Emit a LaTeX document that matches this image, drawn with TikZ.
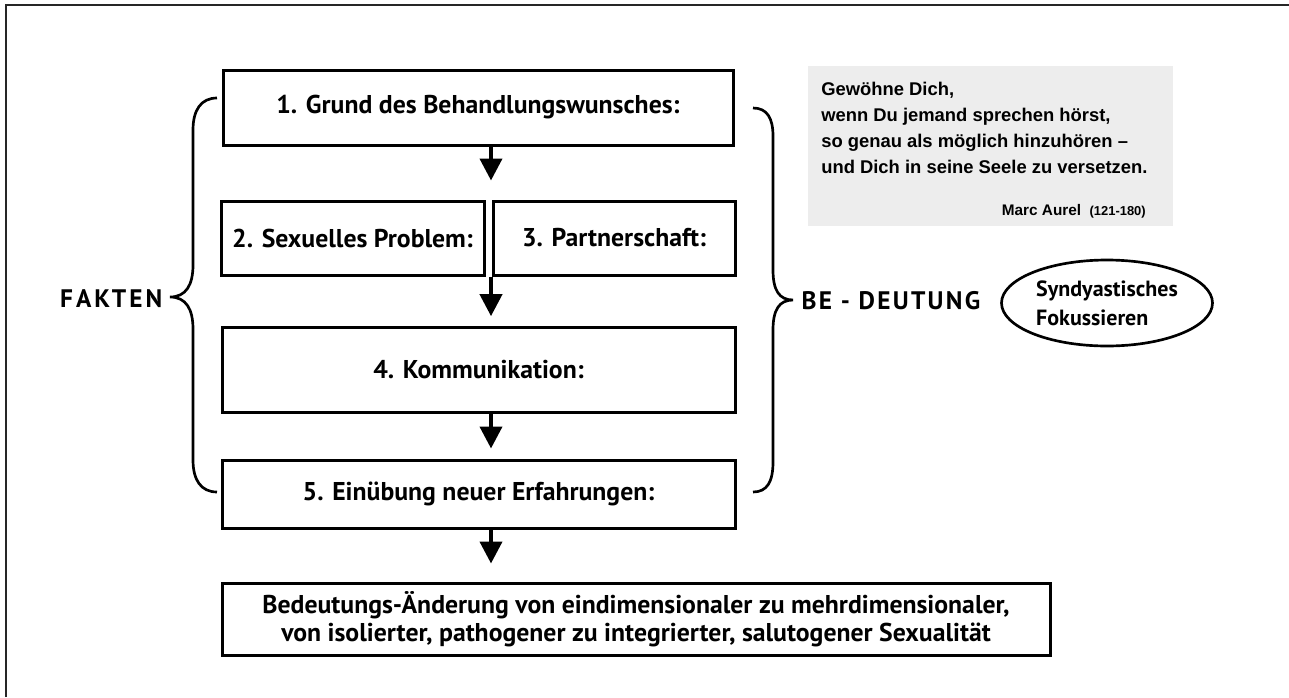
\documentclass[tikz,border=0pt]{standalone}
\usepackage{fontspec}
\setmainfont{PT Sans}
\newfontfamily\arialfont{Liberation Sans}
\usetikzlibrary{arrows.meta,shapes.geometric}
\begin{document}
\begin{tikzpicture}[x=0.75pt,y=-0.75pt,
  box/.style={draw,line width=2.25pt,inner sep=0pt,font=\bfseries\fontsize{19.3}{21}\selectfont,align=center},
  flow/.style={line width=3pt,-{Triangle[width=16.5pt,length=16.5pt]}},
  brace/.style={line width=2pt},
  side/.style={font=\bfseries\fontsize{19}{20}\selectfont\addfontfeature{LetterSpace=#1}},
  quote/.style={font=\arialfont\bfseries\fontsize{13.8}{19.5}\selectfont,inner sep=0pt}]
\useasboundingbox (0,0) rectangle (1289,697);
\draw[line width=1.5pt,black!85] (6,697) -- (6,5) -- (1289,5);
% boxes
\node[box,minimum width=382.5pt,minimum height=56.25pt] (b1) at (478,107.5) {1. Grund des Behandlungswunsches:};
\node[box,minimum width=197.25pt,minimum height=55.5pt] (b2) at (352.5,238) {2. Sexuelles Problem:};
\node[box,minimum width=181.5pt,minimum height=55.5pt] (b3) at (614,238) {3. Partnerschaft:};
\node[box,minimum width=384.75pt,minimum height=63.75pt] (b4) at (478.5,369.5) {4. Kommunikation:};
\node[box,minimum width=384.75pt,minimum height=51pt] (b5) at (478.5,494) {5. Einübung neuer Erfahrungen:};
\node[box,minimum width=621pt,minimum height=54pt] (b6) at (636,619) {Bedeutungs-Änderung von eindimensionaler zu mehrdimensionaler,\\von isolierter, pathogener zu integrierter, salutogener Sexualität};
% arrows
\coordinate (ax) at (491,0);
\draw[flow,shorten >=14.25pt] (b1.south -| ax) -- (b2.north -| ax);
\draw[flow,shorten >=7pt] (b2.south -| ax) -- (b4.north -| ax);
\draw[flow,shorten >=7.5pt] (b4.south -| ax) -- (b5.north -| ax);
\draw[flow,shorten >=13.5pt] (b5.south -| ax) -- (b6.north -| ax);
% braces
\draw[brace] (217,98) .. controls (201,98) and (193,110) .. (193,130) -- (193,265)
  .. controls (193,285) and (186,297) .. (170,297)
  .. controls (186,297) and (193,309) .. (193,329) -- (193,460)
  .. controls (193,480) and (201,492) .. (217,492);
\draw[brace] (753,108) .. controls (767,108) and (773,118) .. (773,136) -- (773,270)
  .. controls (773,290) and (779,300) .. (793,300)
  .. controls (779,300) and (773,310) .. (773,330) -- (773,462)
  .. controls (773,482) and (767,492) .. (753,492);
\node[side=12,anchor=east] (fakten) at (167,299) {FAKTEN};
\node[side=9,anchor=west] (bedeutung) at (797,301) {BE - DEUTUNG};
% ellipse
\node[draw,ellipse,line width=2pt,minimum width=158.25pt,minimum height=64.5pt,inner sep=0pt,align=left,font=\bfseries\fontsize{16.5}{22}\selectfont] (ell) at (1107,303) {Syndyastisches\\Fokussieren};
% quote
\node[fill=black!7,minimum width=273.75pt,minimum height=120pt,inner sep=0pt,anchor=north west] (q) at (808,66) {};
\node[quote,anchor=base west] (q1) at (821,95) {Gewöhne Dich,};
\node[quote,anchor=base west] (q2) at (821,121) {wenn Du jemand sprechen hörst,};
\node[quote,anchor=base west] (q3) at (821,147) {so genau als möglich hinzuhören –};
\node[quote,anchor=base west] (q4) at (821,173) {und Dich in seine Seele zu versetzen.};
\node[inner sep=0pt,anchor=base east,font=\arialfont\bfseries] (q5) at (1146,215) {\fontsize{11.5}{14}\selectfont Marc Aurel\ \ \fontsize{9.7}{12}\selectfont(121-180)};
\end{tikzpicture}
\end{document}
